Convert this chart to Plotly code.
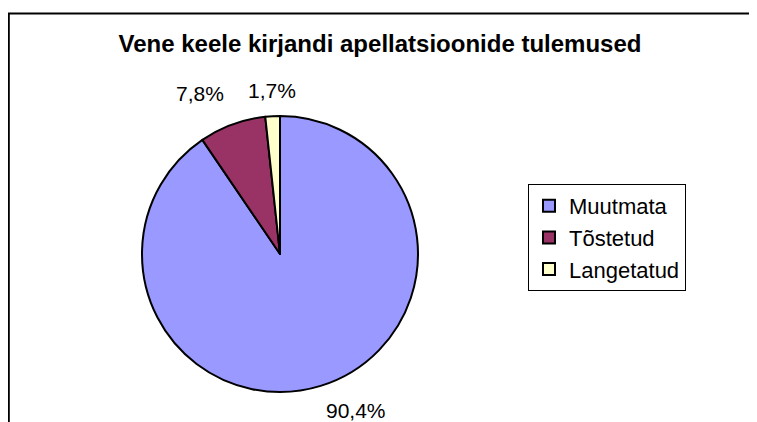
import numpy as np
import plotly.graph_objects as go

categories = ["Muutmata", "Tõstetud", "Langetatud"]
values = [90.4, 7.8, 1.7]
colors = ["#9999FF", "#993366", "#FFFFCC"]
title_text = "Vene keele kirjandi apellatsioonide tulemused"

labels_text = [f"{v:.1f}".replace(".", ",") + "%" for v in values]

W, H = 757, 422
OFF = 8  # default page body margin
font = "Liberation Sans, Arial, sans-serif"

# pie geometry in figure pixels
cx, cy, r = 280 - OFF, 254 - OFF, 138

fig = go.Figure(go.Pie(
    labels=categories,
    values=values,
    textinfo="none",
    sort=False,
    direction="clockwise",
    rotation=0,
    marker=dict(colors=colors, line=dict(color="black", width=2)),
    domain=dict(x=[(cx - r) / W, (cx + r) / W], y=[(H - cy - r) / H, (H - cy + r) / H]),
    hoverinfo="label+percent",
))

# data labels placed outside each slice, at the slice's mid angle (Excel "best fit" style)
vals = np.array(values, dtype=float)
cum = np.cumsum(vals) / vals.sum() * 2 * np.pi
mid = cum - vals / vals.sum() * np.pi  # clockwise from 12 o'clock
label_style = [  # (pad beyond radius, xanchor, yanchor)
    (12, "left", "top"),
    (19, "right", "bottom"),
    (12, "center", "bottom"),
]
annotations = []
for txt, a, (pad, xa, ya) in zip(labels_text, mid, label_style):
    R = r + pad
    px = cx + R * np.sin(a)
    py = cy - R * np.cos(a)
    annotations.append(dict(x=px / W, y=1 - py / H, xref="paper", yref="paper",
                            text=txt, showarrow=False, xanchor=xa, yanchor=ya,
                            font=dict(family=font, size=21, color="black")))

fig.update_layout(
    width=W, height=H,
    margin=dict(l=0, r=0, t=0, b=0),
    paper_bgcolor="white",
    plot_bgcolor="white",
    title=dict(text="<b>" + title_text + "</b>",
               font=dict(family=font, size=24, color="black"),
               x=(380 - OFF) / W, xanchor="center", xref="paper",
               y=1 - (44 - OFF) / H, yanchor="middle", yref="container"),
    legend=dict(x=(528 - OFF) / W, xanchor="left", y=1 - (184 - OFF) / H, yanchor="top",
                bordercolor="black", borderwidth=1, bgcolor="white",
                font=dict(family=font, size=22, color="black")),
    annotations=annotations,
    shapes=[dict(type="rect", xref="paper", yref="paper",
                 x0=0.8 / W, x1=1.05, y0=-0.1, y1=1 - (13.5 - OFF) / H,
                 line=dict(color="black", width=2), fillcolor="rgba(0,0,0,0)",
                 layer="below")],
)

fig.write_html("out.html")
